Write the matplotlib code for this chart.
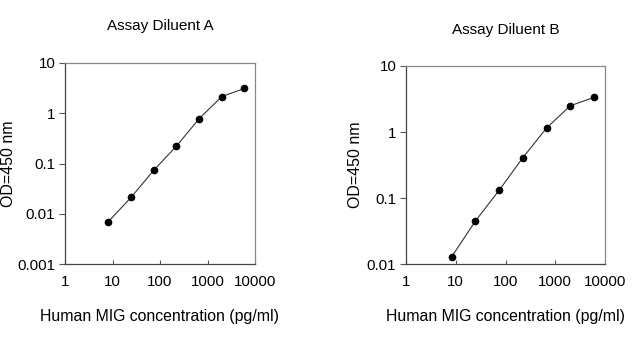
import matplotlib
matplotlib.use("Agg")
import matplotlib.pyplot as plt
from matplotlib.ticker import FixedLocator, FixedFormatter, NullLocator

plt.rcParams['font.family'] = ['Liberation Sans', 'DejaVu Sans']

# MIG standard curve, 3-fold serial dilutions (pg/ml)
concentration = [8.23, 24.7, 74.1, 222, 667, 2000, 6000]
od_diluent_a = [0.0070, 0.0213, 0.0735, 0.222, 0.78, 2.15, 3.11]
od_diluent_b = [0.0129, 0.0449, 0.131, 0.408, 1.15, 2.50, 3.35]

x_ticks = [1, 10, 100, 1000, 10000]
x_tick_labels = ["1", "10", "100", "1000", "10000"]
y_ticks_a = [0.001, 0.01, 0.1, 1, 10]
y_tick_labels_a = ["0.001", "0.01", "0.1", "1", "10"]
y_ticks_b = [0.01, 0.1, 1, 10]
y_tick_labels_b = ["0.01", "0.1", "1", "10"]

fig = plt.figure(figsize=(6.4, 3.44), dpi=100)
ax_a = fig.add_axes([65 / 640, 80 / 344, 190 / 640, 201 / 344])
ax_b = fig.add_axes([406 / 640, 79.7 / 344, 199 / 640, 198.3 / 344])


def style_panel(ax, y, yticks, ylabels, title, title_y, ylabel_x):
    ax.plot(concentration, y, color="#333333", lw=0.8, marker="o",
            markersize=4.5, markerfacecolor="black", markeredgecolor="black")
    ax.set_xscale("log")
    ax.set_yscale("log")
    ax.set_xlim(x_ticks[0], x_ticks[-1])
    ax.set_ylim(yticks[0], yticks[-1])
    ax.xaxis.set_major_locator(FixedLocator(x_ticks))
    ax.xaxis.set_major_formatter(FixedFormatter(x_tick_labels))
    ax.yaxis.set_major_locator(FixedLocator(yticks))
    ax.yaxis.set_major_formatter(FixedFormatter(ylabels))
    ax.xaxis.set_minor_locator(NullLocator())
    ax.yaxis.set_minor_locator(NullLocator())
    ax.tick_params(axis="x", direction="in", length=3, width=0.8,
                   labelsize=10.8, pad=8, color="#555555")
    ax.tick_params(axis="y", direction="out", length=4, width=0.8,
                   labelsize=10.8, pad=3, color="#555555")
    for side in ("left", "bottom"):
        ax.spines[side].set_color("#444444")
        ax.spines[side].set_linewidth(0.9)
    for side in ("top", "right"):
        ax.spines[side].set_color("#888888")
        ax.spines[side].set_linewidth(0.9)
    ax.set_xlabel("Human MIG concentration (pg/ml)", fontsize=11.4, labelpad=14)
    ax.set_ylabel("OD=450 nm", fontsize=11.5)
    ax.yaxis.set_label_coords(ylabel_x, 0.5)
    fig.text(ax.get_position().x0 + ax.get_position().width / 2, title_y,
             title, ha="center", va="center", fontsize=11)


style_panel(ax_a, od_diluent_a, y_ticks_a, y_tick_labels_a,
            "Assay Diluent A", 1 - 26 / 344, -0.258)
style_panel(ax_b, od_diluent_b, y_ticks_b, y_tick_labels_b,
            "Assay Diluent B", 1 - 30 / 344, -0.216)

fig.savefig("out.png", dpi=100)
